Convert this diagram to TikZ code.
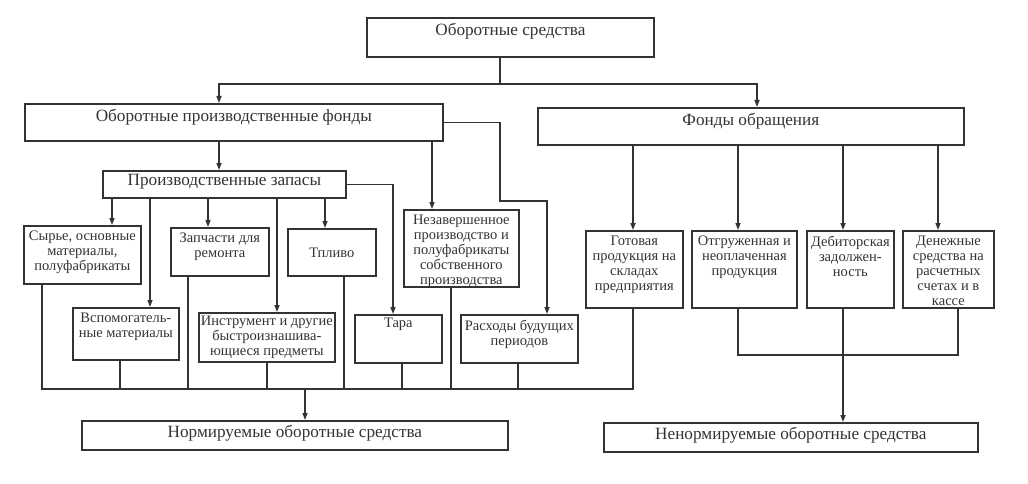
\documentclass[tikz,border=0pt]{standalone}
\usepackage{fontspec}
\setmainfont{Liberation Serif}
\usetikzlibrary{arrows.meta}
\begin{document}
\begin{tikzpicture}[x=1pt, y=-1pt, line width=1.5pt, color=black!80,
    >={Triangle[length=7pt,width=5pt]},
    box/.style 2 args={draw, line width=1.7pt, inner sep=0pt, anchor=north west,
      font=\fontsize{14.5}{15}\selectfont,
      execute at begin node={\begin{minipage}[c][#2pt][t]{#1pt}\centering\vspace*{5pt}},
      execute at end node={\end{minipage}}},
    bigtext/.style={font=\fontsize{17.2}{19}\selectfont}]
      \useasboundingbox (0,0) rectangle (1028,484);
      \draw
        (366,17) node[box={287}{39}, bigtext] (os) {Оборотные средства}
        (24,103) node[box={418}{37}, bigtext] (opf) {Оборотные производственные фонды}
        (537,107) node[box={426}{37}, bigtext] (fo) {Фонды обращения}
        (102,170) node[box={243}{27}, bigtext] (pz) {\vspace*{-2pt}Производственные запасы}
        (23,225) node[box={117}{58}] (syr) {Сырье, основные\\материалы,\\полуфабрикаты}
        (72,307) node[box={106}{52}] (vsp) {Вспомогатель-\\ные материалы}
        (170,227) node[box={98}{48}] (zap) {Запчасти для\\ремонта}
        (287,228) node[box={88}{47}] (tpl) {\vspace*{14pt}Тпливо}
        (198,312) node[box={136}{49}] (ins) {\vspace*{-2pt}Инструмент и другие\\быстроизнашива-\\ющиеся предметы}
        (354,314) node[box={87}{48}] (tara) {\vspace*{-2pt}Тара}
        (403,209) node[box={115}{77}] (nez) {Незавершенное\\производство и\\полуфабрикаты\\собственного\\производства}
        (460,314) node[box={117}{48}] (ras) {Расходы будущих\\периодов}
        (585,230) node[box={97}{77}] (got) {Готовая\\продукция на\\складах\\предприятия}
        (691,230) node[box={105}{77}] (otg) {Отгруженная и\\неоплаченная\\продукция}
        (806,230) node[box={87}{77}] (deb) {Дебиторская\\задолжен-\\ность}
        (902,230) node[box={91}{77}] (den) {Денежные\\средства на\\расчетных\\счетах и в\\кассе}
        (81,420) node[box={426}{29}, bigtext] (norm) {\vspace*{-1pt}Нормируемые оборотные средства}
        (603,422) node[box={374}{29}, bigtext] (nenorm) {\vspace*{-1pt}Ненормируемые оборотные средства};
      \coordinate (top) at (500,84);
      \coordinate (bus) at (0,389);
      \begin{scope}[->]
        \draw (os.south -| top) -- (top) -| (opf.north -| 219,0);
        \draw (top) -| (fo.north -| 757,0);
        \draw (opf.south -| 219,0) -- (pz.north -| 219,0);
        \draw (opf.south -| 432,0) -- (nez.north -| 432,0);
        \draw (opf.east) -| (500,201) -| (ras.north -| 547,0);
        \draw (pz.east) -| (tara.north -| 393,0);
        \draw (pz.south -| 112,0) -- (syr.north -| 112,0);
        \draw (pz.south -| 150,0) -- (vsp.north -| 150,0);
        \draw (pz.south -| 208,0) -- (zap.north -| 208,0);
        \draw (pz.south -| 277,0) -- (ins.north -| 277,0);
        \draw (pz.south -| 325,0) -- (tpl.north -| 325,0);
        \draw (fo.south -| 633,0) -- (got.north -| 633,0);
        \draw (fo.south -| 738,0) -- (otg.north -| 738,0);
        \draw (fo.south -| 843,0) -- (deb.north -| 843,0);
        \draw (fo.south -| 938,0) -- (den.north -| 938,0);
        \draw (bus -| 305,0) -- (norm.north -| 305,0);
        \draw (deb.south -| 843,0) -- (nenorm.north -| 843,0);
      \end{scope}
      \begin{scope}[-]
        \draw (syr.south -| 42,0) -- (bus -| 42,0) -- (bus -| 633,0) -- (got.south -| 633,0);
        \draw (vsp.south -| 120,0) -- (bus -| 120,0);
        \draw (zap.south -| 188,0) -- (bus -| 188,0);
        \draw (ins.south -| 267,0) -- (bus -| 267,0);
        \draw (tpl.south -| 344,0) -- (bus -| 344,0);
        \draw (tara.south -| 402,0) -- (bus -| 402,0);
        \draw (nez.south -| 451,0) -- (bus -| 451,0);
        \draw (ras.south -| 518,0) -- (bus -| 518,0);
        \draw (otg.south -| 738,0) -- (738,355) -| (den.south -| 958,0);
      \end{scope}
    \end{tikzpicture}
\end{document}
